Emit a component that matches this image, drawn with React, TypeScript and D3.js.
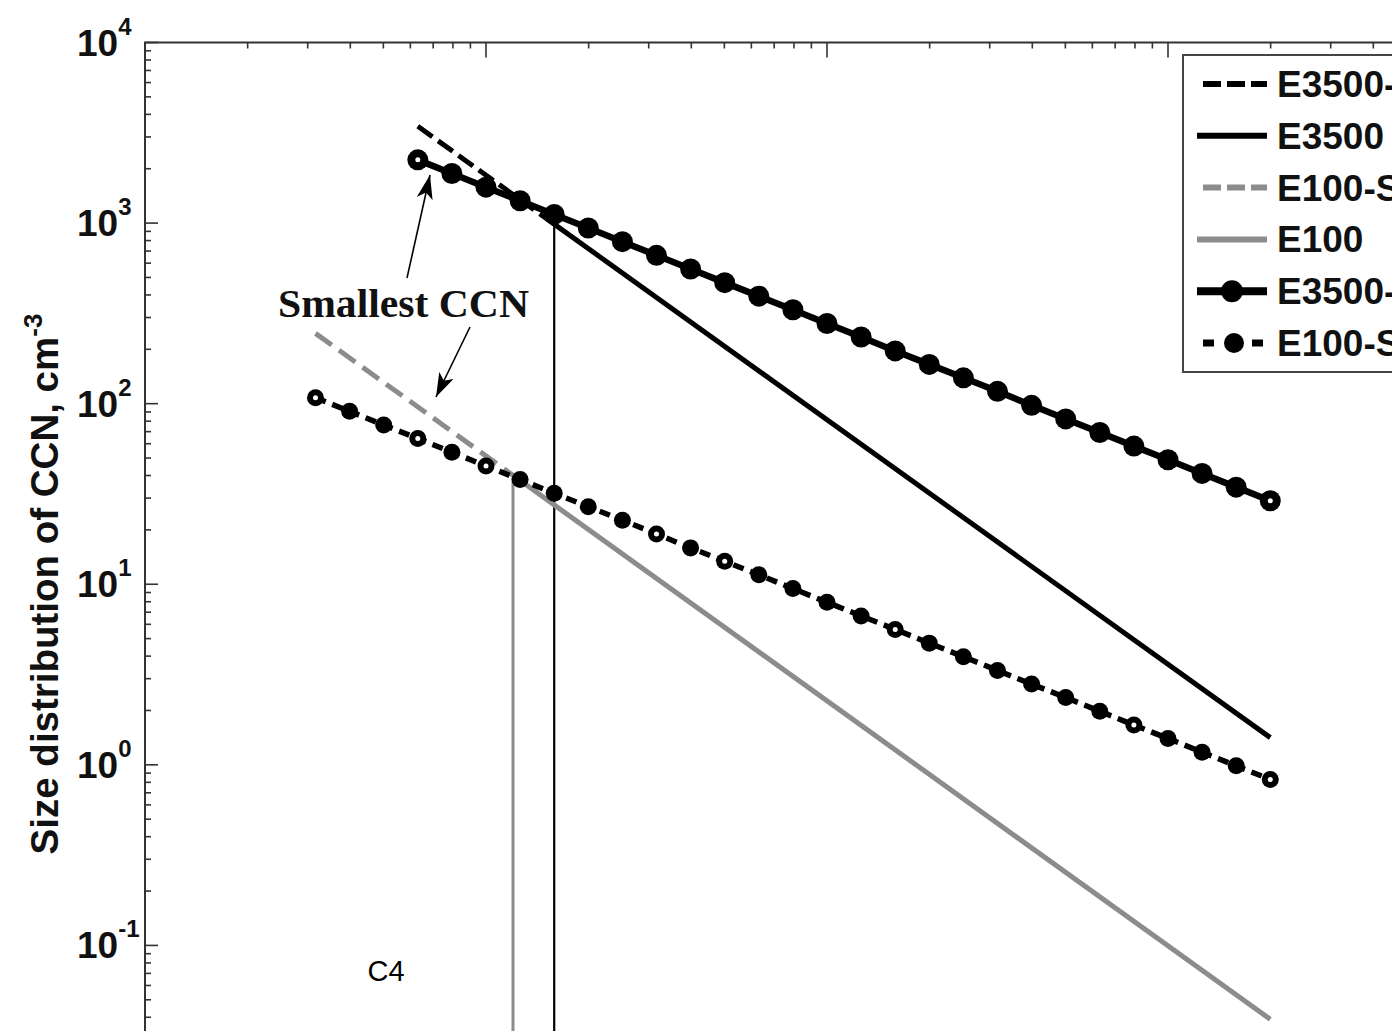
import React from "react";
import * as d3 from "d3";

// CCN radius grid (µm), shared by the sampled size distributions
const radius = [
  0.003162, 0.003981, 0.005012, 0.00631, 0.007943, 0.01, 0.01259, 0.01585,
  0.01995, 0.02512, 0.03162, 0.03981, 0.05012, 0.0631, 0.07943, 0.1, 0.1259,
  0.1585, 0.1995, 0.2512, 0.3162, 0.3981, 0.5012, 0.631, 0.7943, 1.0, 1.259,
  1.585, 1.995,
];

// E3500-S distribution, starting at radius[3]
const e3500SStart = 3;
const e3500SValues = [
  2239, 1882, 1581, 1329, 1117, 939, 789, 663, 557, 468, 394, 331, 278, 234,
  196, 165, 139, 117, 97.9, 82.3, 69.2, 58.2, 48.9, 41.1, 34.5, 29.0,
];

// E100-S distribution, over the whole grid
const e100SValues = [
  107.9, 90.7, 76.2, 64.1, 53.8, 45.2, 38.0, 31.9, 26.9, 22.6, 19.0, 15.9, 13.4,
  11.3, 9.46, 7.95, 6.68, 5.62, 4.72, 3.97, 3.33, 2.8, 2.36, 1.98, 1.66, 1.4,
  1.175, 0.987, 0.83,
];

// markers drawn with an open centre
const e3500SOpen = [0, 25];
const e100SOpen = [0, 3, 5, 10, 12, 17, 24, 28];

// power-law spectra: [start, smallest CCN, end]
const e3500Radius = [0.00631, 0.01585, 1.995];
const e3500Values = [3436, 987, 1.415];
const e100Radius = [0.003162, 0.012, 1.995];
const e100Values = [245, 40.1, 0.039];

const yTickExponents = [-1, 0, 1, 2, 3, 4];
const legendLabels = ["E3500-S", "E3500", "E100-S", "E100", "E3500-SC", "E100-SC"];

const W = 1392;
const H = 1031;
const SANS = "'Liberation Sans', Arial, Helvetica, sans-serif";
const SERIF = "'Liberation Serif', 'Times New Roman', serif";
const GRAY = "#8c8c8c";

export default function App() {
  const x = d3.scaleLog().domain([1e-3, 10]).range([145, 1509]);
  const y = d3.scaleLog().domain([1e-2, 1e4]).range([1126, 42.5]);
  const line = d3
    .line<[number, number]>()
    .x((d) => x(d[0]))
    .y((d) => y(d[1]));

  const pts = (rs: number[], vs: number[]) => rs.map((r, i) => [r, vs[i]] as [number, number]);
  const e3500Dashed = pts(e3500Radius.slice(0, 2), e3500Values.slice(0, 2));
  const e3500Solid = pts(e3500Radius.slice(1), e3500Values.slice(1));
  const e100Dashed = pts(e100Radius.slice(0, 2), e100Values.slice(0, 2));
  const e100Solid = pts(e100Radius.slice(1), e100Values.slice(1));
  const e3500S = e3500SValues.map((v, i) => [radius[i + e3500SStart], v] as [number, number]);
  const e100S = e100SValues.map((v, i) => [radius[i], v] as [number, number]);

  const [x0, x1] = x.range();
  const [yb, yt] = y.range();

  // minor/major ticks for log axes
  const xTicks: { v: number; major: boolean }[] = [];
  for (let e = -3; e <= 1; e++) {
    for (let m = 1; m <= 9; m++) {
      const v = m * Math.pow(10, e);
      if (v >= 1e-3 && v <= 10) xTicks.push({ v, major: m === 1 });
    }
  }
  const yTicks: { v: number; major: boolean }[] = [];
  for (let e = -2; e <= 4; e++) {
    for (let m = 1; m <= 9; m++) {
      const v = m * Math.pow(10, e);
      if (v >= 1e-2 && v <= 1e4) yTicks.push({ v, major: m === 1 });
    }
  }

  const legendX = 1183;
  const legendTop = 55;
  const rowY = (i: number) => 84 + 51.8 * i;

  return (
    <svg
      width={W}
      height={H}
      style={{ position: "absolute", left: 0, top: 0, background: "#fff" }}
    >
      <defs>
        <marker
          id="arrowHead"
          viewBox="0 0 24 16"
          refX="24"
          refY="8"
          markerWidth="24"
          markerHeight="16"
          markerUnits="userSpaceOnUse"
          orient="auto"
        >
          <path d="M0,0 L24,8 L0,16 L6,8 Z" fill="#000" />
        </marker>
      </defs>
      <rect x={0} y={0} width={W} height={H} fill="#fff" />

      {/* axes frame */}
      <rect x={x0} y={yt} width={x1 - x0} height={yb - yt} fill="none" stroke="#333" strokeWidth={2} />
      {xTicks.map((t, i) => (
        <line key={"xt" + i} x1={x(t.v)} x2={x(t.v)} y1={yt} y2={yt + (t.major ? 15 : 6)} stroke="#333" strokeWidth={1.6} />
      ))}
      {yTicks.map((t, i) => (
        <line key={"yt" + i} x1={x0} x2={x0 + (t.major ? 13 : 6)} y1={y(t.v)} y2={y(t.v)} stroke="#333" strokeWidth={1.6} />
      ))}
      {yTickExponents.map((e) => (
        <text key={"yl" + e} x={77} y={y(Math.pow(10, e)) + 13} fontFamily={SANS} fontWeight="bold" fontSize={37} fill="#111">
          10
          <tspan fontSize={24} dy={-21}>
            {e}
          </tspan>
        </text>
      ))}
      <text
        transform={`translate(58,584) rotate(-90)`}
        textAnchor="middle"
        fontFamily={SANS}
        fontWeight="bold"
        fontSize={38.5}
        fill="#111"
      >
        Size distribution of CCN, cm
        <tspan fontSize={26} dy={-16}>
          -3
        </tspan>
      </text>

      {/* smallest-CCN cut-offs */}
      <line x1={x(e100Radius[1])} x2={x(e100Radius[1])} y1={y(e100Values[1])} y2={yb} stroke={GRAY} strokeWidth={3} />
      <line x1={x(e3500Radius[1])} x2={x(e3500Radius[1])} y1={y(e3500Values[1])} y2={yb} stroke="#000" strokeWidth={2.2} />

      {/* power-law spectra */}
      <path d={line(e100Solid) || ""} fill="none" stroke={GRAY} strokeWidth={5} />
      <path d={line(e100Dashed) || ""} fill="none" stroke={GRAY} strokeWidth={5} strokeDasharray="20 9" />
      <path d={line(e3500Solid) || ""} fill="none" stroke="#000" strokeWidth={5} />
      <path d={line(e3500Dashed) || ""} fill="none" stroke="#000" strokeWidth={5} strokeDasharray="18 7" />

      {/* E100-S */}
      <path d={line(e100S) || ""} fill="none" stroke="#000" strokeWidth={5.5} strokeDasharray="11 7" />
      {e100S.map((d, i) => (
        <g key={"m1" + i}>
          <circle cx={x(d[0])} cy={y(d[1])} r={8.5} fill="#000" />
          {e100SOpen.includes(i) && <circle cx={x(d[0])} cy={y(d[1])} r={2.5} fill="#fff" />}
        </g>
      ))}

      {/* E3500-S */}
      <path d={line(e3500S) || ""} fill="none" stroke="#000" strokeWidth={6.5} />
      {e3500S.map((d, i) => (
        <g key={"m2" + i}>
          <circle cx={x(d[0])} cy={y(d[1])} r={10.5} fill="#000" />
          {e3500SOpen.includes(i) && <circle cx={x(d[0])} cy={y(d[1])} r={2.5} fill="#fff" />}
        </g>
      ))}

      {/* annotations */}
      <text
        x={278}
        y={317}
        fontFamily={SERIF}
        fontWeight="bold"
        fontSize={40}
        textLength={251}
        lengthAdjust="spacingAndGlyphs"
        fill="#111"
      >
        Smallest CCN
      </text>
      <line x1={407} y1={278} x2={430} y2={175} stroke="#000" strokeWidth={1.6} markerEnd="url(#arrowHead)" />
      <line x1={470} y1={327} x2={436} y2={397} stroke="#000" strokeWidth={1.6} markerEnd="url(#arrowHead)" />
      <text x={386} y={981} textAnchor="middle" fontFamily={SANS} fontSize={29} fill="#000">
        C4
      </text>

      {/* legend */}
      <rect x={legendX} y={legendTop} width={330} height={317} fill="#fff" stroke="#444" strokeWidth={2} />
      {legendLabels.map((lab, i) => {
        const cy = rowY(i);
        const sx0 = 1197;
        const sx1 = 1267;
        let sample: React.ReactNode = null;
        if (i === 0)
          sample = <line x1={1203} x2={sx1} y1={cy} y2={cy} stroke="#000" strokeWidth={6} strokeDasharray="18 6" />;
        else if (i === 1) sample = <line x1={sx0} x2={sx1} y1={cy} y2={cy} stroke="#000" strokeWidth={6} />;
        else if (i === 2)
          sample = <line x1={1203} x2={sx1} y1={cy} y2={cy} stroke={GRAY} strokeWidth={6} strokeDasharray="18 6" />;
        else if (i === 3) sample = <line x1={sx0} x2={sx1} y1={cy} y2={cy} stroke={GRAY} strokeWidth={6} />;
        else if (i === 4)
          sample = (
            <g>
              <line x1={sx0} x2={sx1} y1={cy} y2={cy} stroke="#000" strokeWidth={8} />
              <circle cx={1232} cy={cy} r={11} fill="#000" />
            </g>
          );
        else
          sample = (
            <g>
              <line x1={1203} x2={1266} y1={cy} y2={cy} stroke="#000" strokeWidth={7} strokeDasharray="11 19 0 19 11" />
              <circle cx={1234} cy={cy} r={10} fill="#000" />
            </g>
          );
        return (
          <g key={"lg" + i}>
            {sample}
            <text x={1277} y={cy + 13} fontFamily={SANS} fontWeight="bold" fontSize={37} fill="#111">
              {lab}
            </text>
          </g>
        );
      })}
    </svg>
  );
}
